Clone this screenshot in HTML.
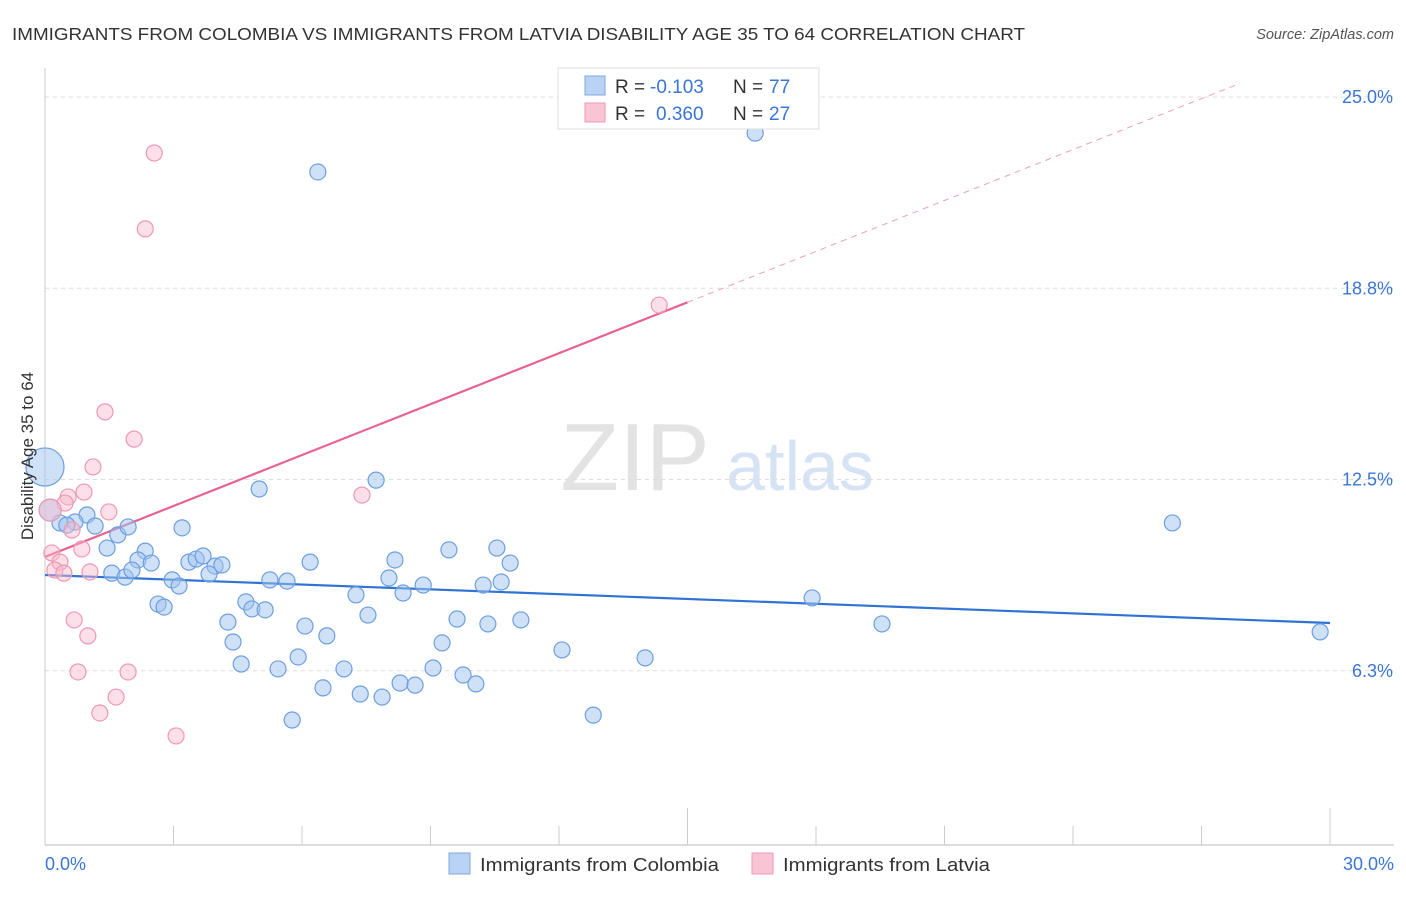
<!DOCTYPE html>
<html><head><meta charset="utf-8"><style>
body{margin:0;background:#fff;font-family:"Liberation Sans",sans-serif}
svg text{font-family:"Liberation Sans",sans-serif}
</style></head><body>
<svg id="chart" width="1406" height="892" viewBox="0 0 1406 892" xmlns="http://www.w3.org/2000/svg">
<text x="12" y="40" font-size="17.5" fill="#333" textLength="1013" lengthAdjust="spacingAndGlyphs">IMMIGRANTS FROM COLOMBIA VS IMMIGRANTS FROM LATVIA DISABILITY AGE 35 TO 64 CORRELATION CHART</text>
<text x="1394" y="39" font-size="14.5" fill="#555" text-anchor="end" font-style="italic">Source: ZipAtlas.com</text>
<g>
<text x="635" y="490" font-size="96" fill="#e3e3e3" text-anchor="middle" font-family="Liberation Serif">ZIP</text>
<text x="800" y="490" font-size="70" fill="#d6e3f4" text-anchor="middle">atlas</text>
</g>
<g id="grid"></g><g id="axes"></g><g id="trends"></g><g id="pts"></g>
<text transform="translate(33,456) rotate(-90)" font-size="17" fill="#333" text-anchor="middle">Disability Age 35 to 64</text>
<g>
<rect x="558" y="68" width="261" height="61" fill="#fff" stroke="#ddd"/>
<rect x="585" y="76" width="20" height="19" fill="#b9d3f5" stroke="#7fa7e0"/>
<rect x="585" y="103" width="20" height="19" fill="#f9c4d3" stroke="#ef9ab4"/>
<text x="615" y="93" font-size="19" fill="#333">R =</text>
<text x="650" y="93" font-size="19" fill="#3a75d6">-0.103</text>
<text x="733" y="93" font-size="19" fill="#333">N =</text>
<text x="769" y="93" font-size="19" fill="#3a75d6">77</text>
<text x="615" y="120" font-size="19" fill="#333">R =</text>
<text x="656" y="120" font-size="19" fill="#3a75d6">0.360</text>
<text x="733" y="120" font-size="19" fill="#333">N =</text>
<text x="769" y="120" font-size="19" fill="#3a75d6">27</text>
</g>
<g>
<rect x="449" y="853" width="21" height="21" fill="#b9d3f5" stroke="#7fa7e0"/>
<text x="480" y="871" font-size="18" fill="#333" textLength="239" lengthAdjust="spacingAndGlyphs">Immigrants from Colombia</text>
<rect x="752" y="853" width="21" height="21" fill="#f9c4d3" stroke="#ef9ab4"/>
<text x="783" y="871" font-size="18" fill="#333" textLength="207" lengthAdjust="spacingAndGlyphs">Immigrants from Latvia</text>
</g>
</svg>
<script>
const yTicks=[25.0,18.8,12.5,6.3];
const yTickVals=[25,18.75,12.5,6.25];
const xTickLabels=["0.0%","30.0%"];
const blueX=[16.58,6.37,7.73,5.00,26.32,3.20,1.70,0.98,0.70,0.35,0.51,1.17,1.94,1.45,2.34,2.17,2.48,1.56,1.87,2.03,2.97,3.13,3.36,3.53,3.69,3.97,3.83,4.13,2.64,2.78,4.69,4.83,5.14,5.25,5.65,6.19,4.27,4.39,4.58,5.44,5.91,6.07,6.58,7.26,7.54,8.03,8.17,8.36,8.83,9.43,10.55,10.86,10.23,10.65,9.62,10.34,11.11,9.27,9.06,9.76,10.06,6.98,6.49,7.36,7.87,8.29,8.64,5.77,12.07,12.80,14.01,17.91,19.54,29.77,0.12,0];
const blueY=[23.82,22.55,12.48,12.19,11.08,10.92,10.69,11.34,11.11,11.08,11.01,10.98,10.95,10.26,10.16,9.87,9.77,9.44,9.31,9.54,9.22,9.02,9.80,9.90,10.0,9.67,9.41,9.71,8.43,8.33,8.50,8.27,8.24,9.22,9.18,9.80,7.84,7.19,6.47,6.31,6.70,7.71,7.39,8.73,8.07,9.28,9.87,8.79,9.05,10.2,10.26,9.77,9.05,9.15,7.94,7.78,7.91,7.16,6.34,6.11,5.82,6.31,5.69,5.49,5.39,5.85,5.78,4.64,6.93,4.80,6.67,8.63,7.78,7.52,11.50,12.91];
const blueR=[8,8,8,8,8,8,8,8,8,8,8,8,8,8,8,8,8,8,8,8,8,8,8,8,8,8,8,8,8,8,8,8,8,8,8,8,8,8,8,8,8,8,8,8,8,8,8,8,8,8,8,8,8,8,8,8,8,8,8,8,8,8,8,8,8,8,8,8,8,8,8,8,8,8,11,19];
const pinkX=[2.55,2.34,14.34,1.40,2.08,1.12,0.91,0.54,0.47,7.40,1.49,0.63,0.16,0.86,0.35,0.23,0.44,1.05,0.68,1.00,0.77,1.94,1.66,1.28,3.06,0.12];
const pinkY=[23.17,20.69,18.20,14.71,13.82,12.91,12.09,11.93,11.73,11.99,11.44,10.85,10.10,10.23,9.80,9.54,9.44,9.48,7.91,7.39,6.21,6.21,5.39,4.87,4.12,11.50];
const pinkR=[8,8,8,8,8,8,8,8,8,8,8,8,8,8,8,8,8,8,8,8,8,8,8,8,8,11];
const blueTrend=[9.38,7.81];
const pinkTrend=[9.97,0.5547];
const NS="http://www.w3.org/2000/svg";
const X=v=>45+v/30*1285, Y=v=>97+(25-v)*30.6;
function mk(t,a,p){const e=document.createElementNS(NS,t);for(const k in a)e.setAttribute(k,a[k]);document.getElementById(p).appendChild(e);return e;}
yTickVals.forEach((v,i)=>{
 const l=mk('line',{x1:45,x2:1394,y1:Y(v),y2:Y(v),stroke:'#ddd','stroke-dasharray':'4,4'},'grid');
 
 
 const t=mk('text',{x:1393,y:Y(v)+6,'font-size':18,fill:'#3a75d6','text-anchor':'end'},'grid');
 t.textContent=yTicks[i].toFixed(1)+'%';
 
 
});
mk('line',{x1:45,x2:45,y1:68,y2:845,stroke:'#ccc'},'axes');
mk('line',{x1:45,x2:1394,y1:845,y2:845,stroke:'#bbb'},'axes');
for(let i=0;i<=10;i++){const v=i*3;const tall=(i==5||i==10);
 const tk=mk('line',{x1:X(v),x2:X(v),y1:tall?808:826,y2:845,stroke:'#ccc'},'axes');
 
 }
[[0,"start"],[30,"end"]].forEach((d,i)=>{const t=mk('text',{x:i?1394:45,y:870,'font-size':18,fill:'#3a75d6','text-anchor':d[1]},'axes');t.textContent=xTickLabels[i];
 
 });
const bt=mk('line',{x1:X(0),y1:Y(blueTrend[0]),x2:X(30),y2:Y(blueTrend[1]),stroke:'#2f73d4','stroke-width':2.2},'trends');


const pf=x=>pinkTrend[0]+pinkTrend[1]*x;
const pt=mk('line',{x1:X(0),y1:Y(pf(0)),x2:X(15),y2:Y(pf(15)),stroke:'#e8648e','stroke-width':2.2},'trends');


const pd=mk('line',{x1:X(15),y1:Y(pf(15)),x2:X(27.9),y2:Y(pf(27.9)),stroke:'#eba0b8','stroke-width':1,'stroke-dasharray':'6,5'},'trends');


blueX.forEach((v,i)=>{const c=mk('circle',{cx:X(v),cy:Y(blueY[i]),r:blueR[i],fill:'rgba(160,195,240,0.5)',stroke:'#6d9fe0','stroke-width':1.2},'pts');
 
 });
pinkX.forEach((v,i)=>{const c=mk('circle',{cx:X(v),cy:Y(pinkY[i]),r:pinkR[i],fill:'rgba(248,185,205,0.45)',stroke:'#ee99b3','stroke-width':1.2},'pts');
 
 });
</script>
</body></html>
